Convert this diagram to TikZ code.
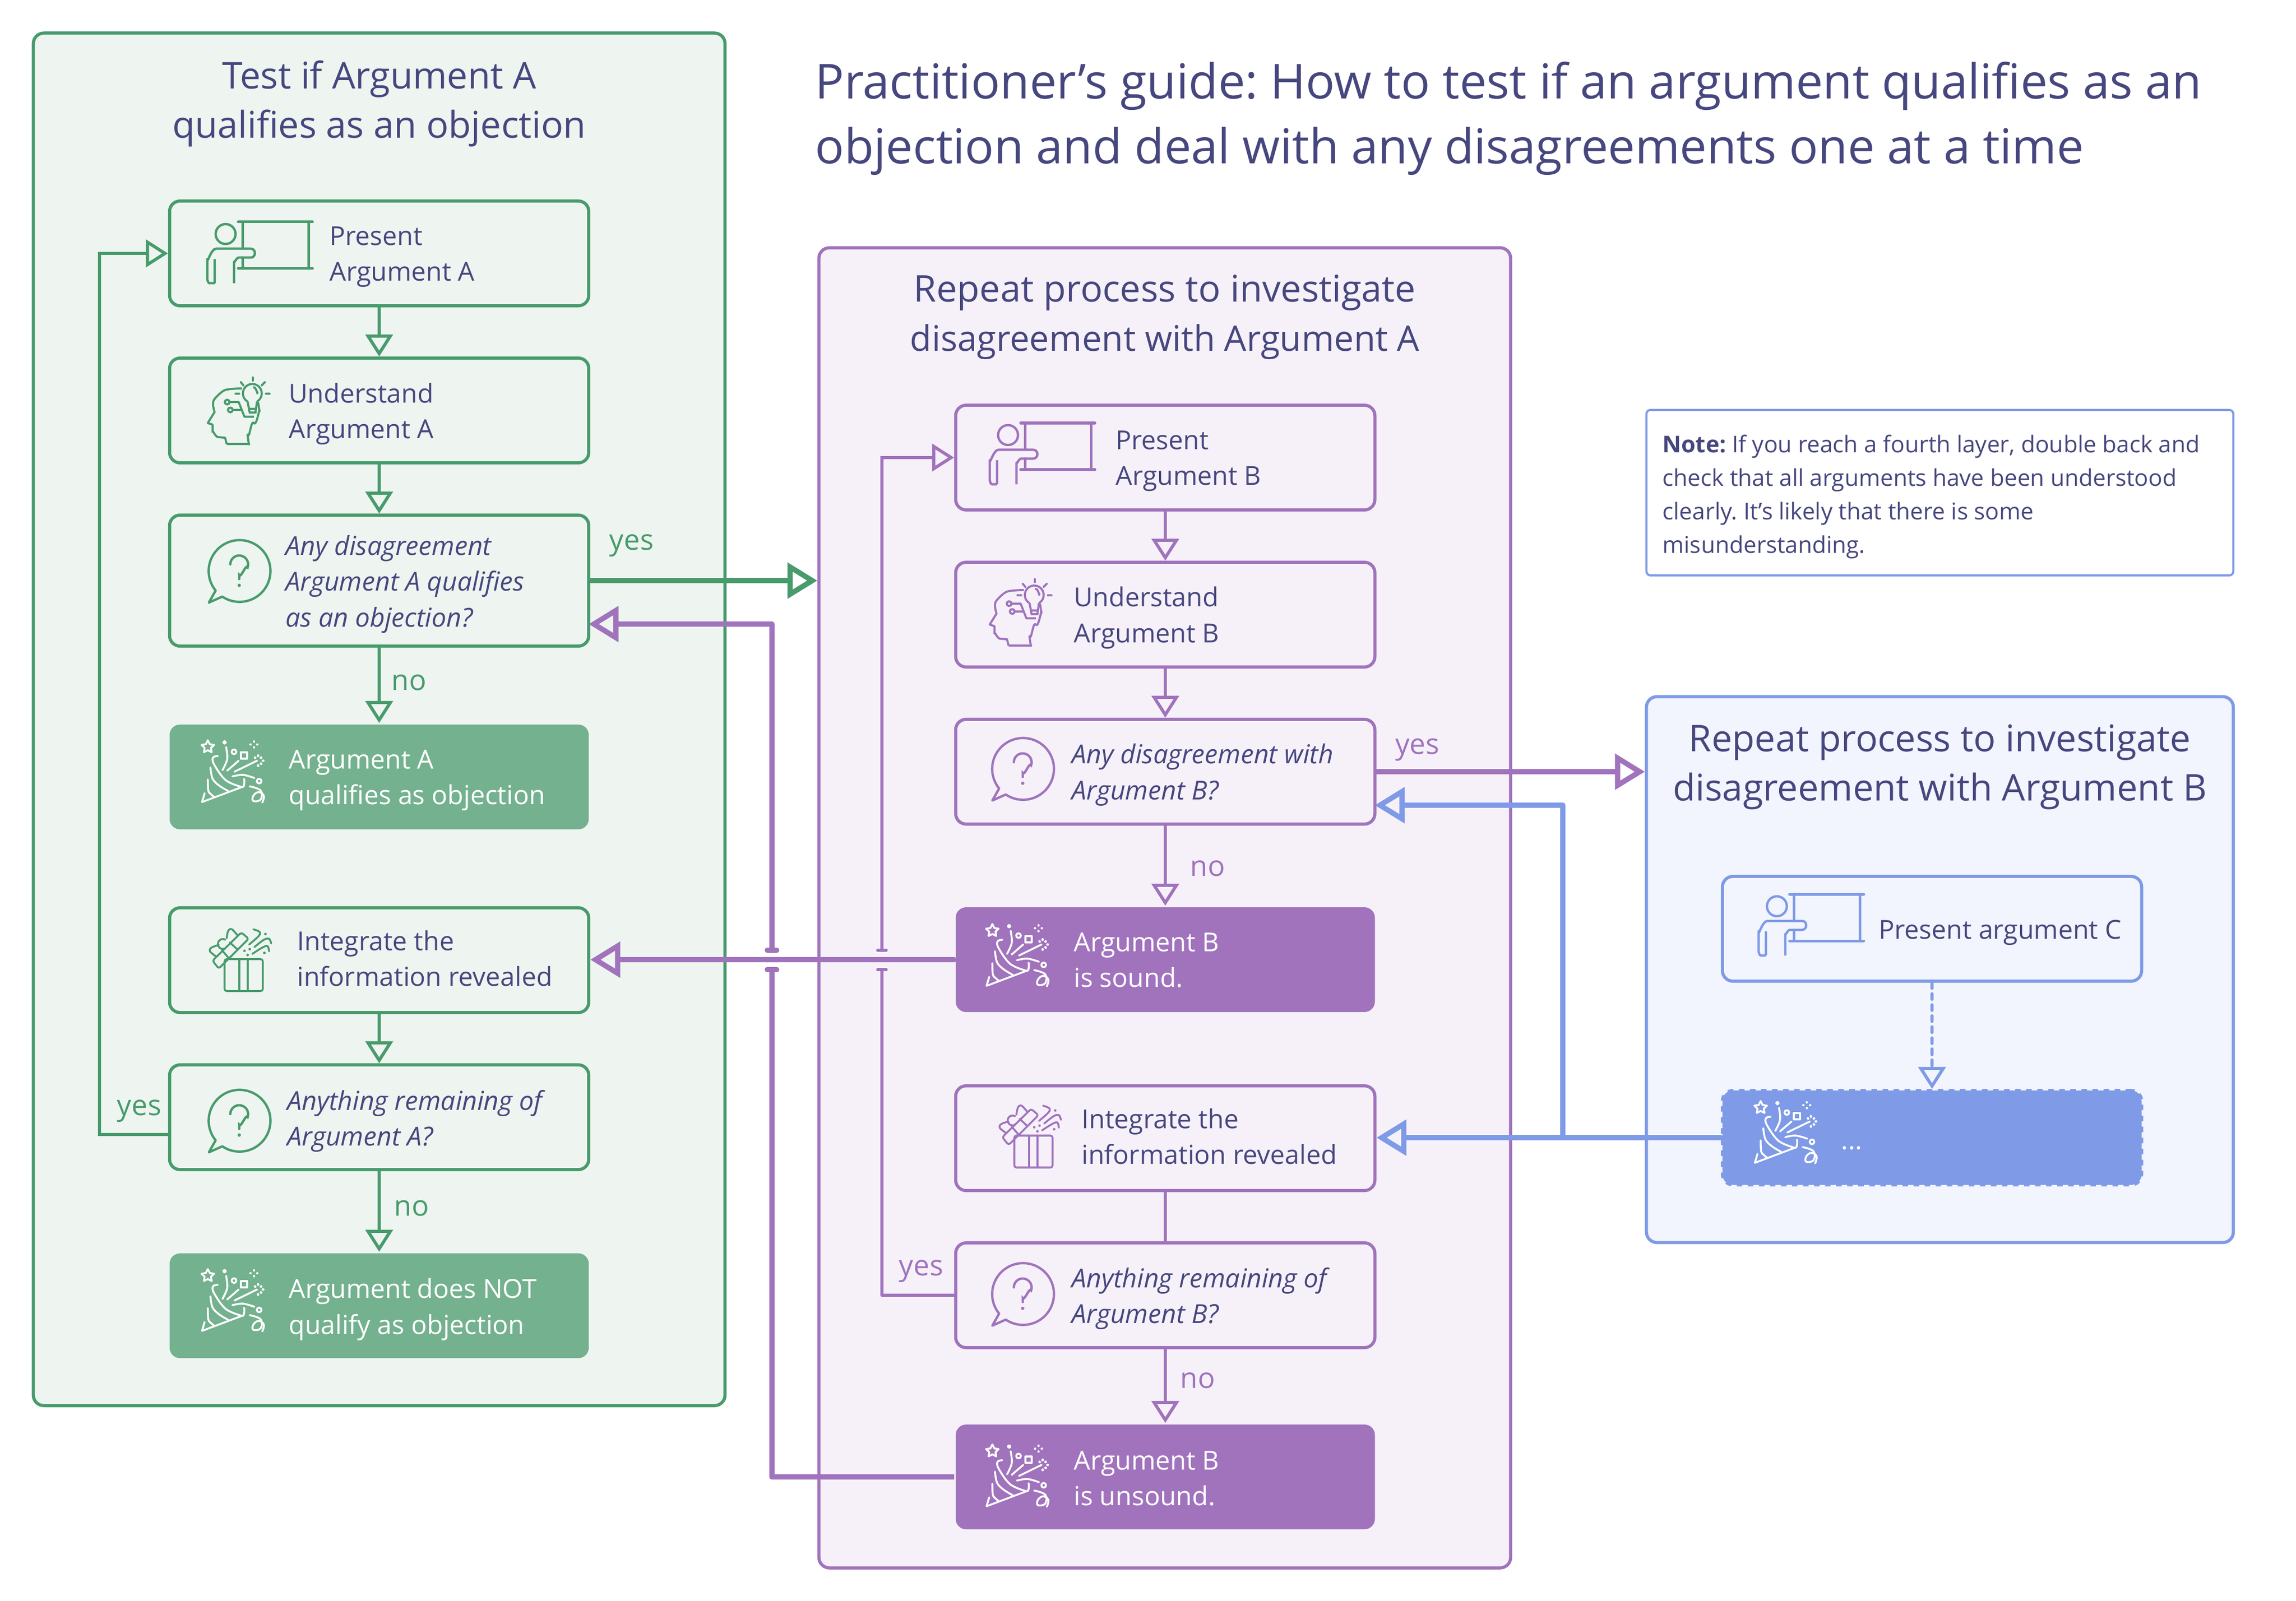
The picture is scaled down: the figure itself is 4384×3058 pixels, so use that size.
\documentclass[tikz,border=0pt]{standalone}
\usepackage{fontspec}
\setmainfont{Open Sans}
\usetikzlibrary{arrows.meta,calc}
\definecolor{grn}{HTML}{489B6C}
\definecolor{grnfill}{HTML}{73B18F}
\definecolor{grnpanel}{HTML}{EEF5F0}
\definecolor{prp}{HTML}{A073BC}
\definecolor{prppanel}{HTML}{F6F1F9}
\definecolor{blu}{HTML}{7F9AE6}
\definecolor{blupanel}{HTML}{F2F5FD}
\definecolor{ink}{HTML}{47477F}
\tikzset{
 x=.01cm,y=-.01cm,
 tx/.style={align=left,inner sep=0,text=ink,font=\fontsize{14.2}{19.35}\selectfont},
 txi/.style={tx,font=\fontsize{14.2}{19.35}\selectfont\itshape},
 txw/.style={tx,text=white},
 titletx/.style={align=center,inner sep=0,text=ink,font=\fontsize{20}{26.7}\selectfont},
 mainttx/.style={align=left,inner sep=0,text=ink,font=\fontsize{26.15}{35.3}\selectfont},
 notetx/.style={align=left,inner sep=0,text=ink,font=\fontsize{12.55}{18.2}\selectfont},
 lab/.style={inner sep=0,font=\fontsize{15.5}{19}\selectfont},
 outl/.style={rectangle,draw=#1,line width=.06cm,rounded corners=.2cm,minimum width=8cm,minimum height=2cm,inner sep=0},
 solidb/.style={rectangle,fill=#1,line width=.06cm,rounded corners=.2cm,minimum width=8cm,minimum height=2cm,inner sep=0},
 conn/.style={draw=#1,line width=.06cm,line cap=round,-{Triangle[open,length=.42cm,width=.52cm]}},
 plainconn/.style={draw=#1,line width=.06cm,line cap=round},
 thickconn/.style={draw=#1,line width=.1cm,line cap=round,line join=round,-{Triangle[open,length=.57cm,width=.67cm]}},
 ic/.style={color=#1,xshift=.04cm},
 iconpresenter/.pic={
  \draw[line width=.05cm,line cap=round] (130,-60)--(272,-60) (138.5,-60)--(138.5,-9) (265,-60)--(265,29) (130,29)--(272,29) (138.5,8)--(138.5,29);
  \draw[line width=.045cm] (106,-37) circle[radius=19];
  \draw[line width=.045cm,line join=round] (85,57)--(85,11) (85,57)--(75,57) to[out=180,in=90] (71,50) --(71,11) to[out=270,in=180] (88,-9)--(154,-9) to[out=0,in=0,looseness=1.6] (154,8)--(131,8) to[out=180,in=270] (122,16)--(122,57);
 },
 iconhead/.pic={
  \draw[line width=.04cm,line join=round] (108,64)--(151,64) to[out=270,in=100] (148,47) to[out=-70,in=120] (160,24) to[out=-60,in=90] (171,1) to[out=270,in=90] (168,-14);
  \draw[line width=.04cm,line join=round] plot[smooth] coordinates {(137,-42) (105,-39) (85,-22) (82,-11) (85,3)} -- (72,24) -- (81,27) -- (81,41) to[out=90,in=180] (92,51) -- (105,52) -- (108,64);
  \draw[line width=.04cm] (148,-17) arc[start angle=120,end angle=420,radius=18];
  \draw[line width=.04cm] (148,-17)--(152,4)--(163,4)--(166,-17) (152,-3)--(163,-3);
  \draw[line width=.04cm,line cap=round] (158,-63)--(158,-57) (135,-54)--(140,-48) (181,-54)--(175,-48) (183,-32)--(190,-32) (125,-32)--(132,-32) (160,-44) to[out=0,in=270] (167,-34);
  \draw[line width=.04cm] (109,-16) circle[radius=4.5] (115,-1) circle[radius=4.5];
  \draw[line width=.04cm,line join=round] (114,-16)--(131,-16)--(142,12)--(160,12) (120,-1)--(137,-1);
 },
 iconbubble/.pic={
  \draw[line width=.045cm,line join=round] (87,38) arc[start angle=140.7,end angle=484,radius=59] -- (74,61) -- cycle;
  \draw[line width=.045cm,line cap=round] (115,-12) arc[start angle=180,end angle=380,radius=17] to[out=110,in=-70] (132,8) -- (132,16);
  \fill (132,28) circle[radius=3.2];
 },
 iconpopper/.pic={
  \begin{scope}[line width=.036cm,line cap=round,line join=round]
  \draw (66,31)--(61,48)--(138,19) to[out=-30,in=80] (141,5);
  \draw plot[smooth,tension=.6] coordinates {(91,-40) (82,-37) (84,-24) (106,6) (136,19)};
  \draw plot[smooth,tension=.6] coordinates {(77,-18) (81,3) (93,16) (111,27)};
  \draw plot[smooth,tension=.6] coordinates {(72,5) (73,26) (78,33) (84,38)};
  \fill (104,-66) circle[radius=4];
  \draw plot[smooth,tension=.6] coordinates {(107,-57) (109,-34) (100,-13)};
  \draw (122,-48) circle[radius=4.5] (170,8) circle[radius=4.5];
  \draw (135,-47) rectangle (147,-35);
  \draw (109,-12)--(131,-31) (123,-10)--(166,-31);
  \draw[line width=.045cm] (162,-37)--(162.6,-36.4) (168,-41)--(168,-40) (174,-37)--(173.4,-36.4) (177,-31)--(178,-31) (174,-25)--(173.4,-25.6) (168,-22)--(168,-21);
  \draw plot[smooth,tension=.6] coordinates {(119,-1) (139,-4) (161,2)};
  \draw plot[smooth,tension=.7] coordinates {(152,18) (173,26) (173,43) (159,46) (159,36) (169,29) (179,36) (176,49)};
  \draw (160,-68)--(160,-67) (160,-57)--(160,-56) (153,-62)--(154,-62) (166,-62)--(167,-62);
  \draw (72,-70)--(75.8,-62.4)--(84,-61.2)--(78,-55.4)--(79.4,-47.2)--(72,-51)--(64.6,-47.2)--(66,-55.4)--(60,-61.2)--(68.2,-62.4)--cycle;
  \end{scope}
 },
 icongift/.pic={
  \begin{scope}[line width=.036cm,line cap=round,line join=round]
  \draw[rounded corners=.04cm] (104,-2) rectangle (177,59);
  \draw (132,-2)--(132,59) (148,-2)--(148,59);
  \draw[rounded corners=.04cm] (81,1)--(136,-53)--(150,-41)--(93,16)--cycle;
  \draw (99,-19)--(112,-4) (114,-34)--(128,-21);
  \draw plot[smooth,tension=.6] coordinates {(93,-29) (79,-24) (76,-17) (88,-7)};
  \draw plot[smooth,tension=.6] coordinates {(108,-42) (111,-56) (118,-59) (129,-47)};
  \draw (104,-22) arc[start angle=70,end angle=300,radius=9.5];
  \draw plot[smooth,tension=.6] coordinates {(151,-30) (169,-46) (171,-54) (159,-59)};
  \draw plot[smooth,tension=.6] coordinates {(161,-25) (179,-39) (189,-41) (193,-32)};
  \draw plot[smooth,tension=.6] coordinates {(157,-12) (176,-24) (186,-27) (189,-17)};
  \fill (182,-50) circle[radius=2.5] (142,-18) circle[radius=2.5] (152,-21) circle[radius=2.5] (148,-10) circle[radius=2.5] (180,-14) circle[radius=2.5];
  \end{scope}
 },
}
\begin{document}
\frenchspacing
\begin{tikzpicture}
\useasboundingbox (0,0) rectangle (4384,3058);
\fill[white] (0,0) rectangle (4384,3058);
% panels
\node[rectangle,draw=grn,fill=grnpanel,line width=.06cm,rounded corners=.2cm,minimum width=13.2cm,minimum height=26.2cm] (gp) at (724,1374) {};
\node[rectangle,draw=prp,fill=prppanel,line width=.06cm,rounded corners=.2cm,minimum width=13.2cm,minimum height=25.2cm] (pp) at (2224,1734) {};
\node[rectangle,draw=blu,fill=blupanel,line width=.06cm,rounded corners=.2cm,minimum width=11.2cm,minimum height=10.42cm] (bp) at (3704,1852) {};
\node[rectangle,draw=blu,fill=white,line width=.04cm,rounded corners=.08cm,minimum width=11.2cm,minimum height=3.16cm] (nb) at (3704,941) {};
% titles
\node[titletx] (gt) at (724,198) {Test if Argument A\\qualifies as an objection};
\node[titletx] (pt) at (2224,606) {Repeat process to investigate\\{\fontsize{19.1}{26.7}\selectfont disagreement with Argument A}};
\node[titletx] (bt) at (3704,1465) {Repeat process to investigate\\disagreement with Argument B};
\node[mainttx,anchor=west] (mt) at (1556,226) {Practitioner’s guide: How to test if an argument qualifies as an\\objection and deal with any disagreements one at a time};
\node[notetx,anchor=west] (nt) at (3174,949) {\textbf{Note:} If you reach a fourth layer, double back and\\check that all arguments have been understood\\clearly. It's likely that there is some\\misunderstanding.};
% green boxes
\node[outl=grn] (g1) at (724,484) {};
\node[outl=grn] (g2) at (724,784) {};
\node[outl=grn,minimum height=2.5cm] (g3) at (724,1109) {};
\node[solidb=grnfill] (g4) at (724,1484) {};
\node[outl=grn] (g5) at (724,1834) {};
\node[outl=grn] (g6) at (724,2134) {};
\node[solidb=grnfill] (g7) at (724,2494) {};
% purple boxes
\node[outl=prp] (p1) at (2225,874) {};
\node[outl=prp] (p2) at (2225,1174) {};
\node[outl=prp] (p3) at (2225,1474) {};
\node[solidb=prp] (p4) at (2225,1833) {};
\node[outl=prp] (p5) at (2225,2174) {};
\node[outl=prp] (p6) at (2225,2474) {};
\node[solidb=prp] (p7) at (2225,2821) {};
% blue boxes
\node[outl=blu] (b1) at (3689,1774) {};
\node[rectangle,fill=blu,draw=blu,dashed,line width=.06cm,rounded corners=.2cm,minimum width=8cm,minimum height=1.8cm,inner sep=0] (b2) at (3689,2173) {};
% icons
\pic[ic=grn] at (g1.west) {iconpresenter};
\pic[ic=grn] at (g2.west) {iconhead};
\pic[ic=grn] at ($(g3.west)+(0,-19)$) {iconbubble};
\pic[ic=white] at (g4.west) {iconpopper};
\pic[ic=grn] at (g5.west) {icongift};
\pic[ic=grn] at ($(g6.west)+(0,6)$) {iconbubble};
\pic[ic=white] at (g7.west) {iconpopper};
\pic[ic=prp] at ($(p1.west)+(-7,-6)$) {iconpresenter};
\pic[ic=prp] at ($(p2.west)+(-8,-5)$) {iconhead};
\pic[ic=prp] at ($(p3.west)+(-5,-6)$) {iconbubble};
\pic[ic=white] at ($(p4.west)+(-3,2)$) {iconpopper};
\pic[ic=prp] at ($(p5.west)+(7,-3)$) {icongift};
\pic[ic=prp] at ($(p6.west)+(-5,-3)$) {iconbubble};
\pic[ic=white] at ($(p7.west)+(-3,8)$) {iconpopper};
\pic[ic=blu] at ($(b1.west)+(-3,-6)$) {iconpresenter};
\pic[ic=white] at (b2.west) {iconpopper};
% texts
\node[tx,anchor=west] (tg1) at ($(g1.west)+(308,7)$) {Present\\Argument A};
\node[tx,anchor=west] (tg2) at ($(g2.west)+(230,7)$) {Understand\\Argument A};
\node[txi,anchor=west] (tg3) at ($(g3.west)+(224,7)$) {Any disagreement\\Argument A qualifies\\as an objection?};
\node[txw,anchor=west] (tg4) at ($(g4.west)+(230,7)$) {Argument A\\qualifies as objection};
\node[tx,anchor=west] (tg5) at ($(g5.west)+(246,-3)$) {Integrate the\\information revealed};
\node[txi,anchor=west] (tg6) at ($(g6.west)+(227,7)$) {Anything remaining of\\Argument A?};
\node[txw,anchor=west] (tg7) at ($(g7.west)+(230,7)$) {Argument does NOT\\qualify as objection};
\node[tx,anchor=west] (tp1) at ($(p1.west)+(308,7)$) {Present\\Argument B};
\node[tx,anchor=west] (tp2) at ($(p2.west)+(228,6)$) {Understand\\Argument B};
\node[txi,anchor=west] (tp3) at ($(p3.west)+(224,6)$) {Any disagreement with\\Argument B?};
\node[txw,anchor=west] (tp4) at ($(p4.west)+(228,1)$) {Argument B\\is sound.};
\node[tx,anchor=west] (tp5) at ($(p5.west)+(243,-3)$) {Integrate the\\information revealed};
\node[txi,anchor=west] (tp6) at ($(p6.west)+(224,6)$) {Anything remaining of\\Argument B?};
\node[txw,anchor=west] (tp7) at ($(p7.west)+(228,3)$) {Argument B\\is unsound.};
\node[tx,anchor=west] (tb1) at ($(b1.west)+(301,7)$) {Present argument C};
\node[txw,anchor=base west] (tb2) at (3515,2195) {...};
% connector helper coordinates
\coordinate (gloop) at (190,1000);
\coordinate (g6out) at (324,2167);
\coordinate (ploop) at (1684,1000);
\coordinate (jump) at (1474,1000);
\coordinate (bjunc) at (2984,2173);
\coordinate (g3in) at (1124,1192);
\coordinate (p3in) at (2625,1538);
\coordinate (jtl) at (1474,1815);
\coordinate (jbl) at (1474,1852);
\coordinate (jtp) at (1684,1815);
\coordinate (jbp) at (1684,1852);
% green connectors
\draw[conn=grn] (g1.south)--(g2.north);
\draw[conn=grn] (g2.south)--(g3.north);
\draw[conn=grn] (g3.south)--(g4.north);
\draw[conn=grn] (g5.south)--(g6.north);
\draw[conn=grn] (g6.south)--(g7.north);
\draw[conn=grn] (g6out)--(g6out -| gloop)--(g1.west -| gloop)--(g1.west);
\draw[thickconn=grn] (g3.east)--(g3.east -| pp.west);
% purple connectors
\draw[conn=prp] (p1.south)--(p2.north);
\draw[conn=prp] (p2.south)--(p3.north);
\draw[conn=prp] (p3.south)--(p4.north);
\draw[plainconn=prp] (p5.south)--(p6.north);
\draw[conn=prp] (p6.south)--(p7.north);
\draw[thickconn=prp] (p4.west)--(p4.west -| g5.east);
\draw[thickconn=prp] (p3.east)--(p3.east -| bp.west);
\draw[draw=prp,line width=.1cm,line join=round] (p7.west)--(p7.west -| jump)--(jbl);
\draw[thickconn=prp] (jtl)--(g3in -| jump)--(g3in);
\draw[draw=prp,line width=.1cm,line cap=round] ($(jtl)+(-9,0)$)--($(jtl)+(9,0)$);
\draw[draw=prp,line width=.1cm,line cap=round] ($(jbl)+(-9,0)$)--($(jbl)+(9,0)$);
\draw[plainconn=prp,line join=round] (p6.west)--(p6.west -| ploop)--(jbp);
\draw[conn=prp] (jtp)--(p1.west -| ploop)--(p1.west);
\draw[draw=prp,line width=.06cm,line cap=round] ($(jtp)+(-8,0)$)--($(jtp)+(8,0)$);
\draw[draw=prp,line width=.06cm,line cap=round] ($(jbp)+(-8,0)$)--($(jbp)+(8,0)$);
% blue connectors
\draw[conn=blu,dashed] (b1.south)--(b2.north);
\draw[thickconn=blu] (b2.west)--(b2.west -| p5.east);
\draw[thickconn=blu] (bjunc)--(bjunc |- p3in)--(p3in);
% labels
\node[lab,text=grn] (lg1) at (1206,1042) {yes};
\node[lab,text=grn] (lg2) at (781,1304) {no};
\node[lab,text=grn] (lg3) at (266,2122) {yes};
\node[lab,text=grn] (lg4) at (786,2308) {no};
\node[lab,text=prp] (lp1) at (2706,1432) {yes};
\node[lab,text=prp] (lp2) at (2306,1659) {no};
\node[lab,text=prp] (lp3) at (1759,2428) {yes};
\node[lab,text=prp] (lp4) at (2287,2637) {no};
\end{tikzpicture}
\end{document}
